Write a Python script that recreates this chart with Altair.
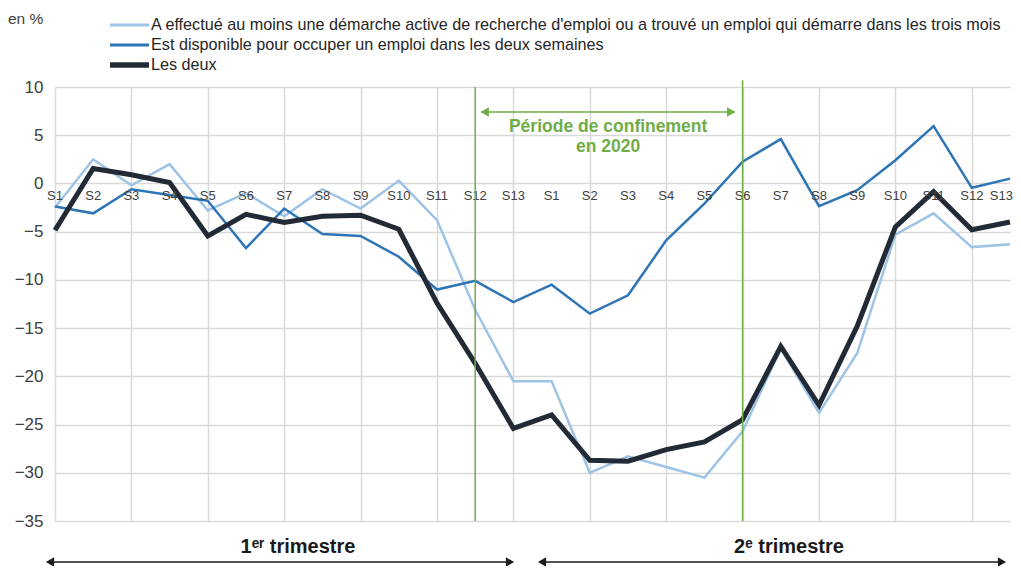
import altair as alt
import pandas as pd

weeks = [f"S{i}" for i in range(1, 14)] * 2
series_names = [
    "A effectué au moins une démarche active de recherche d'emploi ou a trouvé un emploi qui démarre dans les trois mois",
    "Est disponible pour occuper un emploi dans les deux semaines",
    "Les deux",
]
active_search = [-2.5, 2.5, -0.2, 2.0, -2.8, -1.0, -3.4, -0.6, -2.6, 0.3, -3.8, -13.1, -20.5,
                 -20.5, -30.0, -28.3, -29.4, -30.5, -25.7, -17.1, -23.8, -17.6, -5.3, -3.1, -6.6, -6.3]
available = [-2.4, -3.1, -0.6, -1.2, -1.8, -6.7, -2.6, -5.25, -5.45, -7.6, -11.0, -10.1, -12.3,
             -10.5, -13.5, -11.6, -5.9, -2.1, 2.25, 4.6, -2.35, -0.7, 2.4, 5.95, -0.45, 0.5]
both = [-4.85, 1.55, 0.9, 0.1, -5.45, -3.2, -4.05, -3.4, -3.3, -4.75, -12.4, -18.65, -25.4,
        -24.0, -28.7, -28.8, -27.6, -26.8, -24.5, -16.9, -23.0, -14.8, -4.5, -0.85, -4.8, -4.0]
confinement_bounds = [11, 18]  # S12 (1er trim.) and S6 (2e trim.)
y_ticks = list(range(-35, 11, 5))

colors = ["#9DC3E6", "#2E75B6", "#222B35"]
widths = [2.5, 2.5, 5]
GREEN = "#70AD47"
FONT = "Liberation Sans"

n = len(weeks)
x_scale = alt.Scale(domain=[0, n - 1], nice=False, zero=False)
y_scale = alt.Scale(domain=[-35, 10], nice=False, zero=False)

x_enc = alt.X("idx:Q", scale=x_scale,
              axis=alt.Axis(values=list(range(n)), grid=True, labels=False, ticks=False,
                            domain=False, title=None, gridColor="#D9D9D9", gridWidth=1.5))
y_axis = alt.Axis(values=y_ticks, grid=True, ticks=False, domain=False, title=None,
                  gridColor="#D9D9D9", gridWidth=1.5, labelFont=FONT, labelFontSize=17,
                  labelColor="#404040", labelPadding=12)

layers = []
for name, vals, c, w in zip(series_names, [active_search, available, both], colors, widths):
    df = pd.DataFrame({"idx": list(range(n)), "value": vals, "week": weeks})
    layers.append(
        alt.Chart(df).mark_line(color=c, strokeWidth=w, strokeJoin="miter").encode(
            x=x_enc, y=alt.Y("value:Q", scale=y_scale, axis=y_axis)
        )
    )

# week labels along the zero line
wk = pd.DataFrame({"idx": list(range(n)), "week": weeks})
layers.append(
    alt.Chart(wk).transform_filter(alt.datum.idx < n - 1).mark_text(
        font=FONT, fontSize=13, color="#404040", dy=13, baseline="middle").encode(
        x=alt.X("idx:Q", scale=x_scale), y=alt.datum(0), text="week:N"
    )
)
layers.append(
    alt.Chart(wk).transform_filter(alt.datum.idx == n - 1).mark_text(
        font=FONT, fontSize=13, color="#404040", dy=13, dx=3, align="right", baseline="middle").encode(
        x=alt.X("idx:Q", scale=x_scale), y=alt.datum(0), text="week:N"
    )
)

# confinement vertical lines
cb = pd.DataFrame({"idx": confinement_bounds, "top": [10, 10.7]})
layers.append(
    alt.Chart(cb).mark_rule(color=GREEN, strokeWidth=1.5).encode(
        x=alt.X("idx:Q", scale=x_scale), y=alt.Y("top:Q", scale=y_scale), y2=alt.datum(-35)
    )
)

one = pd.DataFrame({"a": [0]})
# confinement double arrow
layers.append(
    alt.Chart(one).mark_rule(color=GREEN, strokeWidth=1.5).encode(
        x=alt.datum(11.15), x2=alt.datum(17.8), y=alt.datum(7.4)
    )
)
layers.append(
    alt.Chart(one).mark_point(shape="triangle-left", filled=True, color=GREEN, size=90, opacity=1).encode(
        x=alt.datum(11.25), y=alt.datum(7.4)
    )
)
layers.append(
    alt.Chart(one).mark_point(shape="triangle-right", filled=True, color=GREEN, size=90, opacity=1).encode(
        x=alt.datum(17.7), y=alt.datum(7.4)
    )
)
for txt, yv in [("Période de confinement", 5.85), ("en 2020", 3.8)]:
    layers.append(
        alt.Chart(one).mark_text(text=txt, font=FONT, fontSize=17.5, fontWeight="bold", color=GREEN,
                                 baseline="middle").encode(x=alt.datum(14.48), y=alt.datum(yv))
    )

# custom legend
for i, (name, c, w) in enumerate(zip(series_names, colors, widths)):
    yy = -62 + 20 * i
    layers.append(
        alt.Chart(one).mark_rule(color=c, strokeWidth=w + 0.5).encode(
            x=alt.value(55), x2=alt.value(94), y=alt.value(yy)
        )
    )
    layers.append(
        alt.Chart(one).mark_text(text=name, font=FONT, fontSize=16.2, color="#262626", align="left",
                                 baseline="middle").encode(x=alt.value(96), y=alt.value(yy))
    )

layers.append(
    alt.Chart(one).mark_text(text="en %", font=FONT, fontSize=15.5, color="#404040", align="left",
                             baseline="middle").encode(x=alt.value(-47), y=alt.value(-68))
)

# quarter labels and arrows
for label, xc, x1, x2 in [("1ᵉʳ trimestre", 243, -10, 460), ("2ᵉ trimestre", 734, 482, 952)]:
    layers.append(
        alt.Chart(one).mark_text(text=label, font=FONT, fontSize=20, fontWeight="bold", color="#1a1a1a",
                                 baseline="middle").encode(x=alt.value(xc), y=alt.value(460))
    )
    layers.append(
        alt.Chart(one).mark_rule(color="#1a1a1a", strokeWidth=1.5).encode(
            x=alt.value(x1 + 4), x2=alt.value(x2 - 4), y=alt.value(475)
        )
    )
    layers.append(
        alt.Chart(one).mark_point(shape="triangle-left", filled=True, color="#1a1a1a", size=90, opacity=1).encode(
            x=alt.value(x1 + 5), y=alt.value(475)
        )
    )
    layers.append(
        alt.Chart(one).mark_point(shape="triangle-right", filled=True, color="#1a1a1a", size=90, opacity=1).encode(
            x=alt.value(x2 - 5), y=alt.value(475)
        )
    )

chart = alt.layer(*layers).properties(
    width=955, height=434,
    padding={"left": 47, "top": 79, "right": 3, "bottom": 45},
    autosize=alt.AutoSizeParams(type="none"),
    background="white",
).configure_view(stroke=None)

chart.save("out.html", embed_options={"renderer": "svg", "actions": False})
